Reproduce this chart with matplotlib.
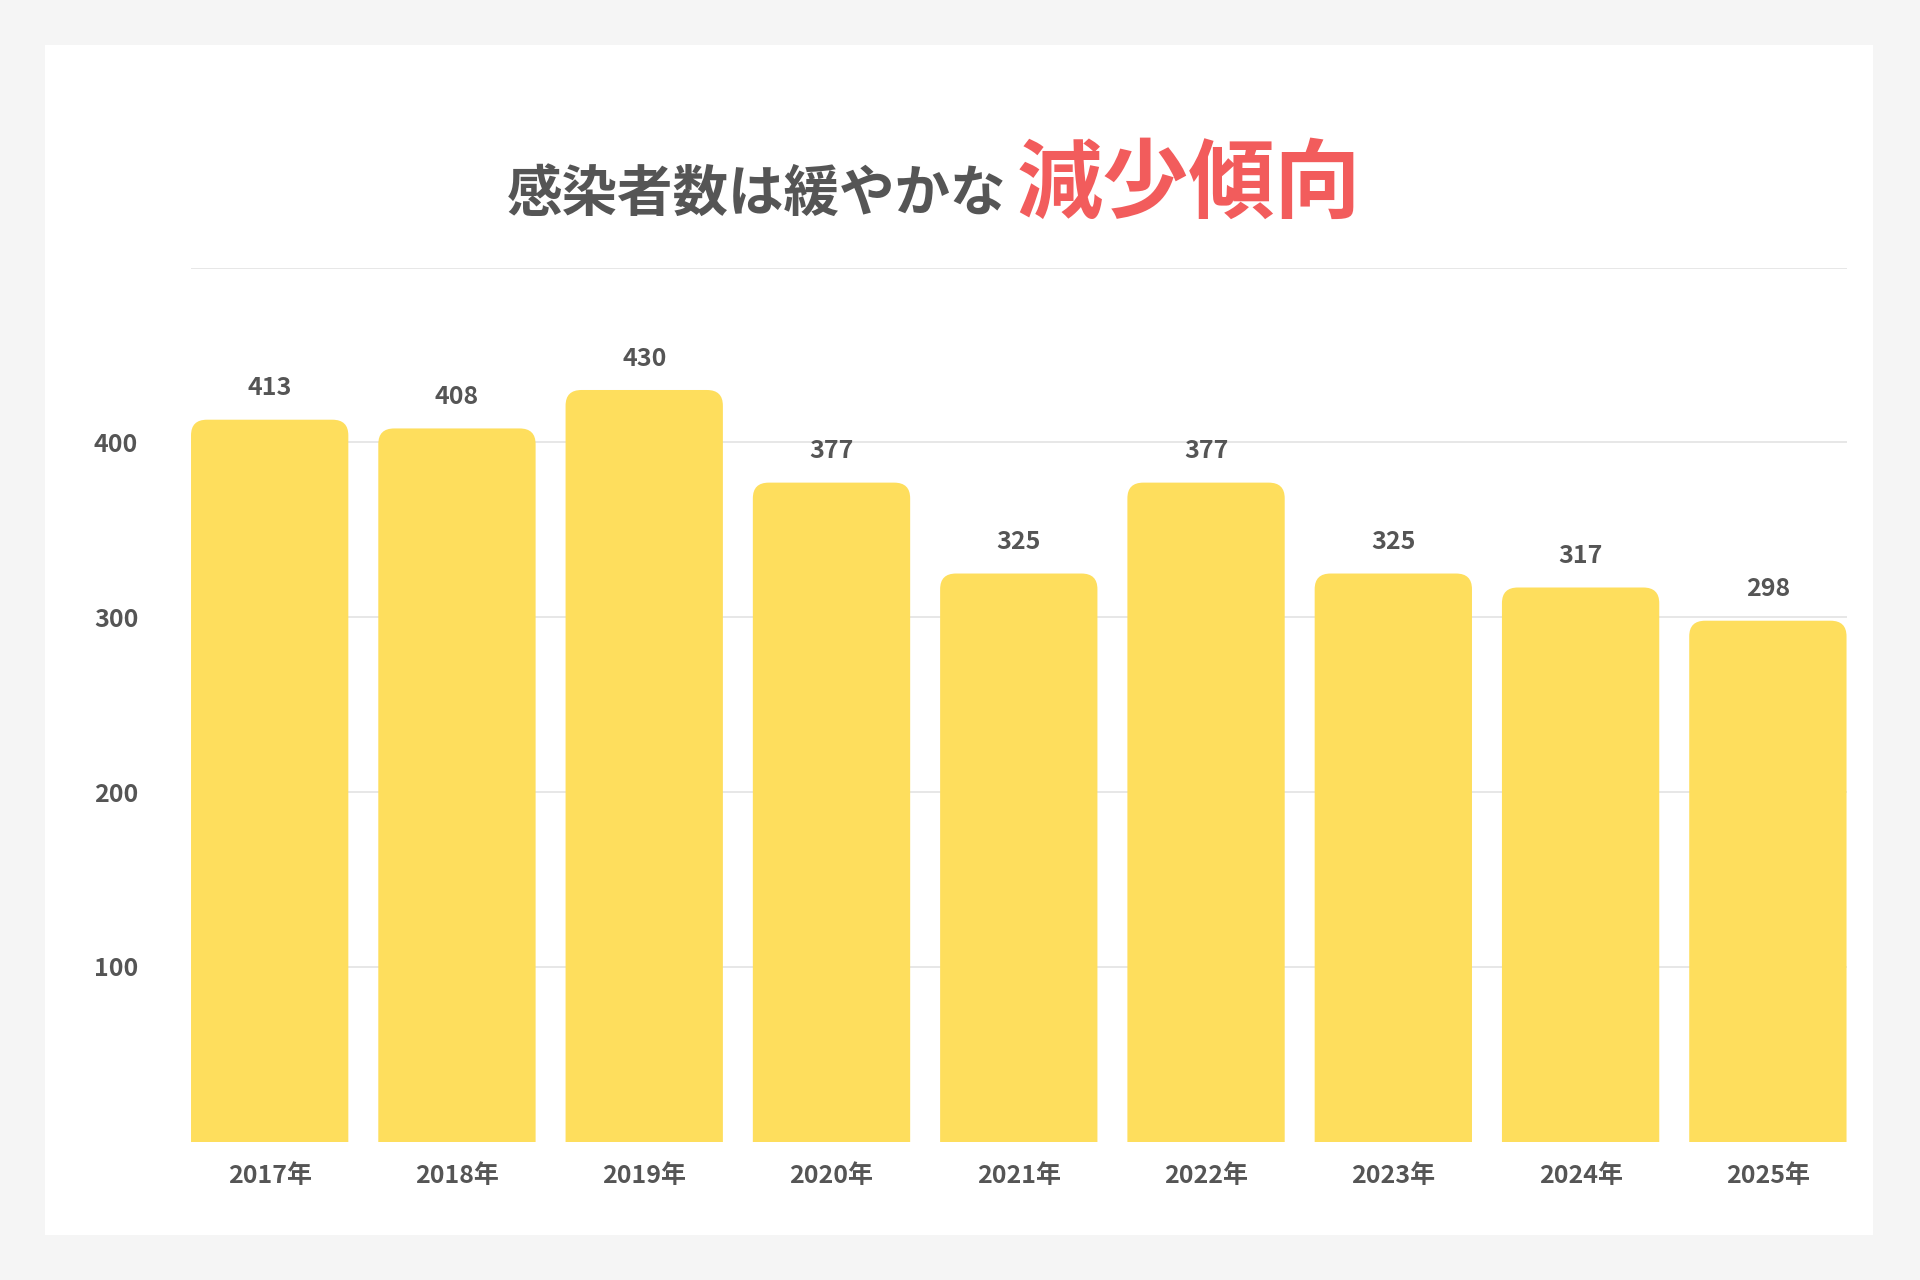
import matplotlib
matplotlib.use("Agg")
import matplotlib.pyplot as plt
from matplotlib.patches import FancyBboxPatch, Rectangle

plt.rcParams['font.family'] = ['Noto Sans CJK JP', 'DejaVu Sans']

years = ["2017年", "2018年", "2019年", "2020年", "2021年", "2022年", "2023年", "2024年", "2025年"]
values = [413, 408, 430, 377, 325, 377, 325, 317, 298]
yticks = [100, 200, 300, 400]

TEXT = "#555555"
BAR = "#FEDE5D"
W, H = 1568, 1045

fig = plt.figure(figsize=(19.2, 12.8), dpi=100, facecolor="#f5f5f5")
fig.patches.append(Rectangle((37 / W, 1 - 1008 / H), (1530 - 37) / W, (1008 - 37) / H,
                             transform=fig.transFigure, facecolor="white", edgecolor="none", zorder=-1))

ax = fig.add_axes([156 / W, 1 - 932 / H, (1508 - 156) / W, (932 - 218.5) / H])
ax.set_zorder(2)
ax.set_facecolor("none")
ax.set_xlim(-0.42, len(values) - 1 + 0.42)
ax.set_ylim(0, 500)

for y in yticks + [500]:
    ax.axhline(y, color="#e3e3e3", lw=1.2, zorder=1)

bw = 0.84
for i, v in enumerate(values):
    p = FancyBboxPatch((i - bw / 2, -20), bw, v + 20,
                       boxstyle="round,pad=0,rounding_size=0.085",
                       mutation_aspect=105, facecolor=BAR, edgecolor="none", zorder=2)
    ax.add_patch(p)
    ax.annotate(str(v), (i, v), xytext=(0, 14), textcoords="offset points",
                ha="center", va="bottom", fontsize=18, fontweight="bold", color=TEXT)

ax.set_xticks(range(len(years)))
ax.set_xticklabels(years, fontsize=18, fontweight="bold", color=TEXT)
ax.set_yticks(yticks)
ax.set_yticklabels([str(t) for t in yticks], fontsize=18, fontweight="bold", color=TEXT)
ax.tick_params(length=0, axis="x", pad=16)
ax.tick_params(length=0, axis="y", pad=38)
for s in ax.spines.values():
    s.set_visible(False)

fig.text(822 / W, 1 - 172 / H, "感染者数は緩やかな", ha="right", va="baseline",
         fontsize=40, fontweight="bold", color=TEXT)
fig.text(830 / W, 1 - 172 / H, "減少傾向", ha="left", va="baseline",
         fontsize=62, fontweight="bold", color="#F25C5C")

fig.savefig("out.png", dpi=100, facecolor=fig.get_facecolor())
